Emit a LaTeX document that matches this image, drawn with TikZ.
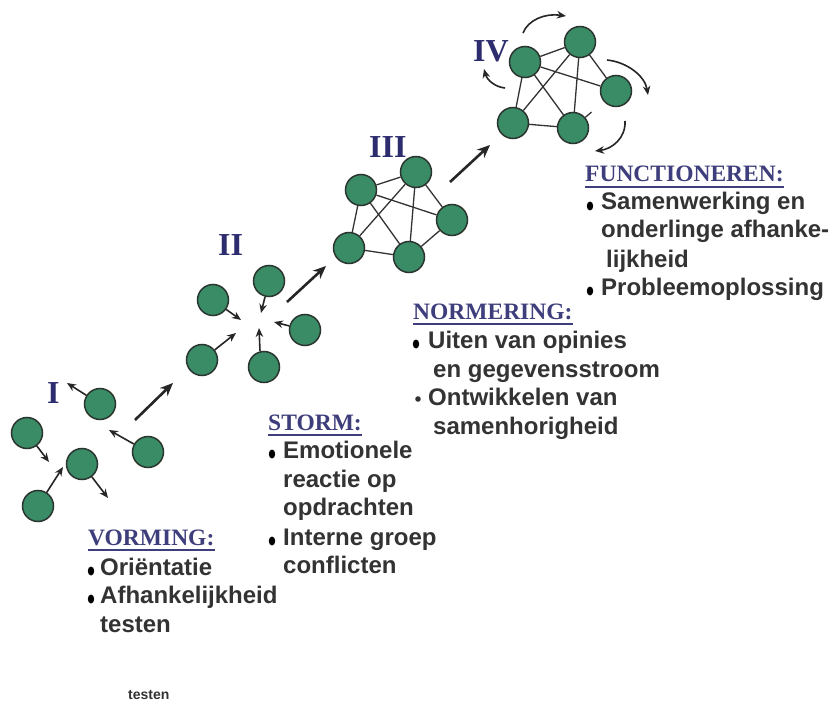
\documentclass[tikz,border=0pt]{standalone}
\usepackage{fontspec}
\setmainfont{Liberation Sans}
\newfontfamily\headfont{Liberation Serif}
\usetikzlibrary{arrows.meta}
\definecolor{member}{HTML}{3A8C66}
\definecolor{memberline}{HTML}{2B3530}
\definecolor{heading}{HTML}{3E3E7C}
\definecolor{numeral}{HTML}{2C2C6E}
\definecolor{bodytext}{HTML}{333333}
\begin{document}
\begin{tikzpicture}[x=1pt,y=-1pt,
  member/.style={circle,draw=memberline,fill=member,line width=1.5pt,minimum size=31pt,inner sep=0pt},
  tie/.style={draw=black!80,line width=1.3pt},
  nudge/.style={-{Stealth[length=9pt,width=7.5pt]},line width=1.6pt,draw=black!85},
  advance/.style={-{Stealth[length=13pt,width=11pt]},line width=2.6pt,draw=black!85},
  swirl/.style={-{Stealth[length=9pt,width=7.5pt]},line width=1.6pt,draw=black!85},
  numeral/.style={font=\headfont\bfseries\fontsize{32}{32}\selectfont,text=numeral,inner sep=0pt,anchor=base west},
  phase/.style={font=\headfont\bfseries\fontsize{23.5}{24}\selectfont,text=heading,inner sep=0pt,anchor=base west},
  item/.style={font=\bfseries\fontsize{24}{28}\selectfont,text=bodytext,inner sep=0pt,anchor=base west},
  underline/.style={draw=heading,line width=1.8pt},
  bullet/.style={fill=black},
]
\fill[white] (0,0) rectangle (831,706);
\useasboundingbox (0,0) rectangle (831,706);

% ---------- stage I: forming ----------
\node[numeral] (n1) at (47,403) {I};
\node[member] (a) at (100,404) {};
\node[member] (b) at (27,433) {};
\node[member] (c) at (82,464) {};
\node[member] (d) at (148,452) {};
\node[member] (e) at (38,506) {};
\coordinate (ta) at (67,383);
\coordinate (td) at (109,430);
\coordinate (tb) at (49,462);
\coordinate (te) at (63,467);
\coordinate (tc) at (108,498);
\draw[nudge] (a) -- (ta);
\draw[nudge] (d) -- (td);
\draw[nudge] (b) -- (tb);
\draw[nudge] (e) -- (te);
\draw[nudge] (c) -- (tc);

% ---------- stage II: storming ----------
\node[numeral] (n2) at (218,256) {II};
\node[member] (f) at (213,300) {};
\node[member] (g) at (269,281) {};
\node[member] (h) at (305,330) {};
\node[member] (i) at (202,360) {};
\node[member] (j) at (264,367) {};
\coordinate (tf) at (241,320);
\coordinate (tg) at (261,313);
\coordinate (th) at (274,322);
\coordinate (ti) at (236,333);
\coordinate (tj) at (259,328);
\draw[nudge] (f) -- (tf);
\draw[nudge] (g) -- (tg);
\draw[nudge] (h) -- (th);
\draw[nudge] (i) -- (ti);
\draw[nudge] ([xshift=-4pt]j.north) -- (tj);

% ---------- stage III: norming ----------
\node[numeral] (n3) at (369,158) {III};
\node[member] (k) at (361,190) {};
\node[member] (l) at (416,172) {};
\node[member] (m) at (452,220) {};
\node[member] (n) at (349,248) {};
\node[member] (o) at (409,257) {};
\foreach \p/\q in {k/l,k/m,k/n,k/o,l/m,l/n,l/o,m/o,n/o}
  \draw[tie] (\p) -- (\q);

% ---------- stage IV: performing ----------
\node[numeral] (n4) at (473,62) {IV};
\node[member] (p) at (525,62) {};
\node[member] (q) at (580,42) {};
\node[member] (r) at (616,91) {};
\node[member] (s) at (513,123) {};
\node[member] (t) at (573,128) {};
\foreach \u/\v in {p/q,p/r,p/s,p/t,q/r,q/s,q/t,s/t}
  \draw[tie] (\u) -- (\v);
\draw[tie,shorten >=16pt] (t) -- (r);

% rotation around the performing group
\coordinate (w1) at (523,33);  \coordinate (w2) at (566,16);
\coordinate (w3) at (607,60);  \coordinate (w4) at (648,95);
\coordinate (w5) at (625,121); \coordinate (w6) at (595,151);
\coordinate (w7) at (505,88);  \coordinate (w8) at (484,69);
\draw[swirl] (w1) .. controls (528,20) and (545,13) .. (w2);
\draw[swirl] (w3) .. controls (627,62) and (645,76) .. (w4);
\draw[swirl] (w5) .. controls (626,138) and (612,149) .. (w6);
\draw[swirl] (w7) .. controls (495,87) and (487,80) .. (w8);

% ---------- progression between the stages ----------
\coordinate (s1) at (135,420); \coordinate (e1) at (173,383);
\coordinate (s2) at (287,302); \coordinate (e2) at (326,266);
\coordinate (s3) at (450,182); \coordinate (e3) at (490,145);
\draw[advance] (s1) -- (e1);
\draw[advance] (s2) -- (e2);
\draw[advance] (s3) -- (e3);

% ---------- VORMING ----------
\node[phase] (hv) at (88,545) {VORMING:};
\draw[underline] ([yshift=-5pt]hv.base west) -- ([yshift=-5pt]hv.base east);
\fill[bullet] (91,571) ellipse [x radius=3.2pt, y radius=4.5pt];
\node[item] (v1) at (100,575) {Oriëntatie};
\fill[bullet] (91,599) ellipse [x radius=3.2pt, y radius=4.5pt];
\node[item] (v2) at (100,603) {Afhankelijkheid};
\node[item] (v3) at (100,632) {testen};
\node[item,font=\bfseries\fontsize{14}{16}\selectfont] (v4) at (128,699) {testen};

% ---------- STORM ----------
\node[phase] (hs) at (268,430) {STORM:};
\draw[underline] ([yshift=-5pt]hs.base west) -- ([yshift=-5pt]hs.base east);
\fill[bullet] (272,454) ellipse [x radius=3.2pt, y radius=4.5pt];
\node[item] (s1t) at (283,458) {Emotionele};
\node[item] (s2t) at (283,487) {reactie op};
\node[item] (s3t) at (283,515) {opdrachten};
\fill[bullet] (272,541) ellipse [x radius=3.2pt, y radius=4.5pt];
\node[item] (s4t) at (283,545) {Interne groep};
\node[item] (s5t) at (283,573) {conflicten};

% ---------- NORMERING ----------
\node[phase] (hn) at (413,319) {NORMERING:};
\draw[underline] ([yshift=-5pt]hn.base west) -- ([yshift=-5pt]hn.base east);
\fill[bullet] (416,344) ellipse [x radius=3.2pt, y radius=4.5pt];
\node[item] (m1t) at (428,348) {Uiten van opinies};
\node[item] (m2t) at (433,377) {en gegevensstroom};
\fill[bodytext] (418,399) circle [radius=2.8pt];
\node[item] (m3t) at (428,405) {Ontwikkelen van};
\node[item] (m4t) at (433,434) {samenhorigheid};

% ---------- FUNCTIONEREN ----------
\node[phase] (hf) at (585,182) {FUNCTIONEREN:};
\draw[underline] ([yshift=-5pt]hf.base west) -- ([yshift=-5pt]hf.base east);
\fill[bullet] (590,206) ellipse [x radius=3.2pt, y radius=4.5pt];
\node[item] (f1t) at (601,210) {Samenwerking en};
\node[item] (f2t) at (601,238) {onderlinge afhanke-};
\node[item] (f3t) at (606,267) {lijkheid};
\fill[bullet] (590,291) ellipse [x radius=3.2pt, y radius=4.5pt];
\node[item] (f4t) at (601,295) {Probleemoplossing};
\end{tikzpicture}
\end{document}
